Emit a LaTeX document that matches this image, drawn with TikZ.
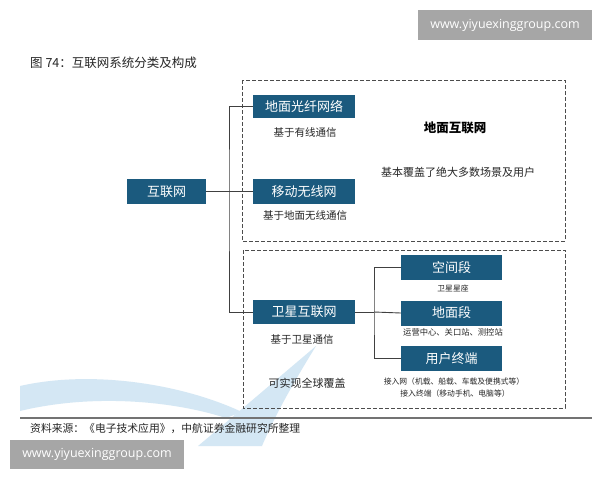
\documentclass[tikz,border=0pt]{standalone}
\usepackage{fontspec}
\setmainfont{Noto Sans CJK SC}
\newfontfamily\wmfont{Open Sans}
\begin{document}
\begin{tikzpicture}[x=1pt,y=-1pt,
  bluebox/.style={fill=boxblue,draw=none,minimum width=102pt,minimum height=24pt,inner sep=0pt,text=white,font=\fontsize{13}{13}\selectfont},
  desc/.style={font=\fontsize{10.5}{11}\selectfont,text=black!85,inner sep=0pt},
  small/.style={font=\fontsize{7.8}{9}\selectfont,text=black!85,inner sep=0pt},
  dbox/.style={draw=black!70,line width=0.9pt,dash pattern=on 4pt off 2pt},
  conn/.style={draw=black!75,line width=0.9pt},
  wm/.style={fill=black!35,text=white,inner sep=0pt,font=\wmfont\fontsize{12.5}{13}\selectfont}
]
\definecolor{boxblue}{HTML}{1B5A7E}
\definecolor{swoosh}{HTML}{D4E7F4}
\useasboundingbox (0,0) rectangle (600,480);
\fill[white] (0,0) rectangle (600,480);
% background swoosh
\fill[swoosh] (20,386) .. controls (90,370) and (180,383) .. (242,412) -- (226,418) .. controls (170,400) and (90,394) .. (20,411) -- cycle;
\fill[swoosh] (316,346) .. controls (270,385) and (235,415) .. (198,446) -- (262,446) .. controls (275,415) and (295,380) .. (316,346) -- cycle;
% watermarks
\node[wm,minimum width=174pt,minimum height=30pt] (wm1) at (505,25) {www.yiyuexinggroup.com};
\node[wm,minimum width=174pt,minimum height=29pt] (wm2) at (97,454.5) {www.yiyuexinggroup.com};
% title
\node[anchor=west,inner sep=0pt,font=\fontsize{12.5}{13}\selectfont,text=black!85] (title) at (30,63) {图 74：互联网系统分类及构成};
% dashed groups
\draw[dbox] (242,80) rectangle (565,241);
\draw[dbox] (243,250) rectangle (565,408);
% nodes
\node[bluebox,minimum width=79pt,minimum height=25pt] (inet) at (166.5,191.5) {互联网};
\node[bluebox,minimum height=23pt] (fiber) at (304,106.5) {地面光纤网络};
\node[desc] (fiberd) at (305,133) {基于有线通信};
\node[bluebox,minimum height=25pt] (mobile) at (304,191.5) {移动无线网};
\node[desc] (mobiled) at (305,216) {基于地面无线通信};
\node[inner sep=0pt,font=\bfseries\fontsize{12.5}{13}\selectfont] (ground) at (455,128) {地面互联网};
\node[desc,font=\fontsize{11}{12}\selectfont] (groundd) at (458,172) {基本覆盖了绝大多数场景及用户};
\node[bluebox] (sat) at (304,312) {卫星互联网};
\node[desc] (satd) at (302,340) {基于卫星通信};
\node[desc,font=\fontsize{11}{12}\selectfont] (satg) at (307,383) {可实现全球覆盖};
\node[bluebox,minimum width=101pt,minimum height=25pt] (space) at (451.5,267.5) {空间段};
\node[small] (spaced) at (453,288) {卫星星座};
\node[bluebox,minimum width=101pt,minimum height=25pt] (gseg) at (451.5,313) {地面段};
\node[small,font=\fontsize{8.3}{9}\selectfont] (gsegd) at (453,332) {运营中心、关口站、测控站};
\node[bluebox,minimum width=101pt,minimum height=25pt] (user) at (451.5,358.5) {用户终端};
\node[small] (userd1) at (454,382) {接入网（机载、船载、车载及便携式等）};
\node[small] (userd2) at (455,393.5) {接入终端（移动手机、电脑等）};
% connectors
\coordinate (j1) at (229,191.5);
\coordinate (j2) at (374,312);
\draw[conn] (inet.east) -- (j1);
\draw[conn] (fiber.west) -| (j1) |- (sat.west);
\draw[conn] (j1) -- (mobile.west);
\draw[conn] (sat.east) -- (j2);
\draw[conn] (space.west) -| (j2) |- (user.west);
\draw[conn] (j2) -- (gseg.west);
% source line
\draw[black!55,line width=1.6pt] (20,418) -- (592,418);
\node[anchor=west,inner sep=0pt,font=\fontsize{10.8}{12}\selectfont,text=black!85] (src) at (30,428) {资料来源：《电子技术应用》，中航证券金融研究所整理};
\end{tikzpicture}
\end{document}
